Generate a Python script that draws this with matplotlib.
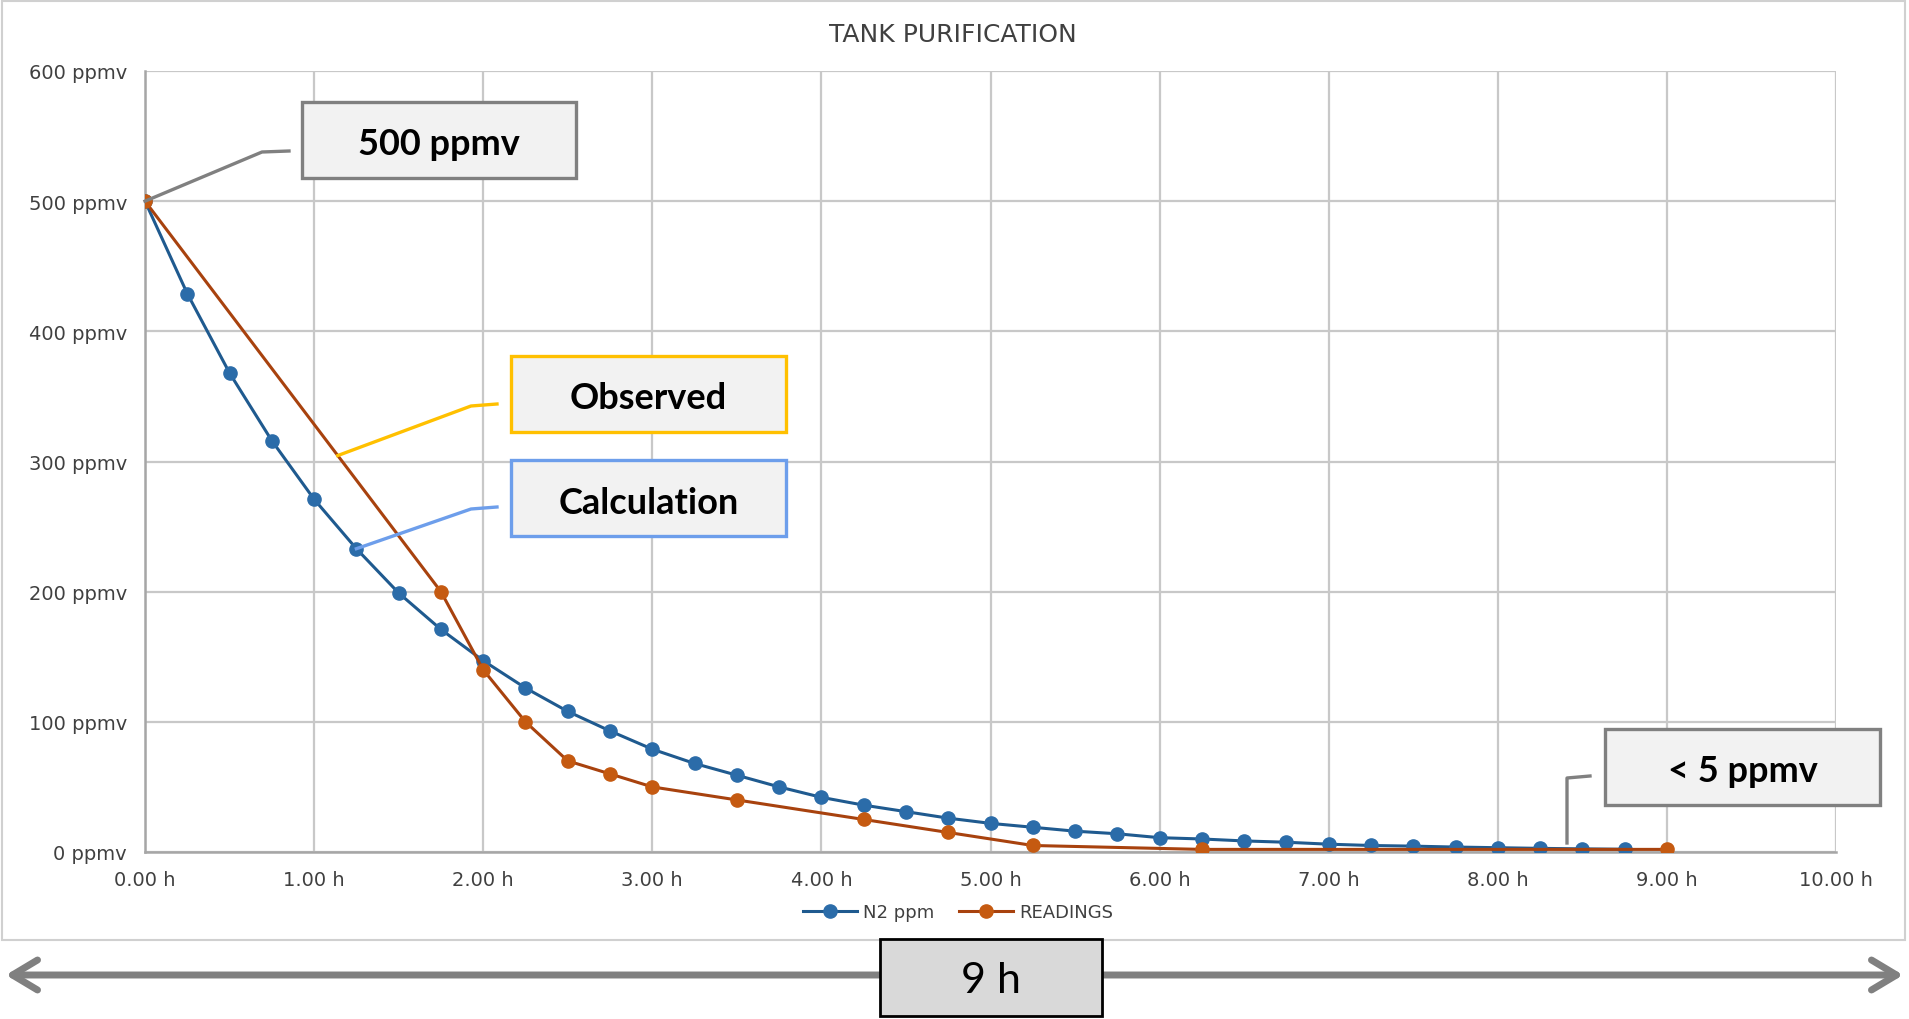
import numpy as np
import matplotlib
matplotlib.use("Agg")
import matplotlib.pyplot as plt
from matplotlib.lines import Line2D
from matplotlib.patches import Rectangle, FancyArrowPatch

# 계산값 (0.25 h 간격)
calc_hours = [0.00, 0.25, 0.50, 0.75, 1.00, 1.25, 1.50, 1.75, 2.00, 2.25,
              2.50, 2.75, 3.00, 3.25, 3.50, 3.75, 4.00, 4.25, 4.50, 4.75,
              5.00, 5.25, 5.50, 5.75, 6.00, 6.25, 6.50, 6.75, 7.00, 7.25,
              7.50, 7.75, 8.00, 8.25, 8.50, 8.75]
n2_ppm = [500, 429, 368, 316, 271, 233, 199, 171, 147, 126,
          108, 93, 79, 68, 59, 50, 42, 36, 31, 26,
          22, 19, 16, 14, 11, 10, 8.5, 7.5, 6, 5,
          4.5, 3.8, 3.3, 2.8, 2.4, 2.1]

# 측정값
read_hours = [0.00, 1.75, 2.00, 2.25, 2.50, 2.75, 3.00, 3.50, 4.25, 4.75, 5.25, 6.25, 9.00]
readings = [500, 200, 140, 100, 70, 60, 50, 40, 25, 15, 5, 2, 2]

x_ticks = [0, 1, 2, 3, 4, 5, 6, 7, 8, 9, 10]
y_ticks = [0, 100, 200, 300, 400, 500, 600]

W, H = 1909, 1020


def fpos(x, y):
    """픽셀 좌표(위에서부터) -> figure fraction"""
    return x / W, 1 - y / H


fig = plt.figure(figsize=(W / 100, H / 100), dpi=100)

# 차트 외곽 테두리
fig.add_artist(Rectangle(fpos(2, 941), 1903 / W, 939 / H, transform=fig.transFigure,
                         fill=False, edgecolor='#D0D0D0', linewidth=1.5))

ax = fig.add_axes([145 / W, 1 - 853 / H, (1836 - 145) / W, (853 - 72) / H])
ax.set_xlim(0, 10)
ax.set_ylim(0, 600)
ax.set_xticks(x_ticks)
ax.set_yticks(y_ticks)
ax.set_xticklabels([f"{v:.2f} h" for v in x_ticks])
ax.set_yticklabels([f"{v} ppmv" for v in y_ticks])
ax.tick_params(length=0, labelsize=14, labelcolor='#404040', pad=13)
ax.grid(True, color='#C8C8C8', linewidth=1.6)
ax.set_axisbelow(True)
for side in ('top', 'right'):
    ax.spines[side].set_visible(False)
for side in ('left', 'bottom'):
    ax.spines[side].set_color('#A6A6A6')
    ax.spines[side].set_linewidth(1.8)

ax.plot(calc_hours, n2_ppm, color='#1F5A8F', linewidth=2.2, marker='o',
        markersize=9.5, markerfacecolor='#2B6CA9', markeredgecolor='#2B6CA9',
        label='N2 ppm', zorder=3)
ax.plot(read_hours, readings, color='#A8420E', linewidth=2.2, marker='o',
        markersize=9.5, markerfacecolor='#C55A11', markeredgecolor='#C55A11',
        label='READINGS', zorder=4)

fig.text(953 / W, 1 - 35 / H, "TANK PURIFICATION", ha='center', va='center',
         fontsize=18, color='#404040')

leg = ax.legend(loc='center', bbox_to_anchor=fpos(958, 913), bbox_transform=fig.transFigure,
                ncol=2, frameon=False, fontsize=13, handlelength=3.0,
                columnspacing=1.4, handletextpad=0.3)
for t in leg.get_texts():
    t.set_color('#404040')

fig.canvas.draw()
to_fig = fig.transFigure.inverted()


def data_fpos(x, y):
    return tuple(to_fig.transform(ax.transData.transform((x, y))))


def callout(x0, y0, x1, y1, text, edge, anchor_pts):
    fig.add_artist(Rectangle(fpos(x0, y1), (x1 - x0) / W, (y1 - y0) / H,
                             transform=fig.transFigure, facecolor='#F2F2F2',
                             edgecolor=edge, linewidth=2.4, zorder=5))
    fig.text((x0 + x1) / 2 / W, 1 - ((y0 + y1) / 2 + 4) / H, text, ha='center', va='center',
             fontsize=26, fontweight='bold', family='Lato', color='black', zorder=6)
    xs = [p[0] for p in anchor_pts]
    ys = [p[1] for p in anchor_pts]
    fig.add_artist(Line2D(xs, ys, transform=fig.transFigure, color=edge,
                          linewidth=2.4, zorder=5))


# 500 ppmv
callout(302, 103, 576, 179, "500 ppmv", '#808080',
        [data_fpos(calc_hours[0], n2_ppm[0]), fpos(262, 153), fpos(289, 152)])
# Observed
obs_x = 1.14
callout(511, 357, 786, 433, "Observed", '#FFC000',
        [data_fpos(obs_x, np.interp(obs_x, read_hours, readings)), fpos(471, 407), fpos(497, 405)])
# Calculation
callout(511, 461, 786, 537, "Calculation", '#6D9EEB',
        [data_fpos(calc_hours[5], n2_ppm[5]), fpos(471, 510), fpos(497, 508)])
# < 5 ppmv
callout(1605, 730, 1880, 806, "< 5 ppmv", '#808080',
        [fpos(1567, 844), fpos(1567, 779), fpos(1590, 777)])

# 하단 화살표 (9 h)
arrow = FancyArrowPatch(fpos(3, 976), fpos(1906, 976), transform=fig.transFigure,
                        arrowstyle='<->,head_length=1.5,head_width=0.9',
                        color='#808080', linewidth=5, capstyle='round',
                        joinstyle='round', mutation_scale=12)
fig.add_artist(arrow)
fig.add_artist(Rectangle(fpos(880, 1017), 222 / W, 77 / H, transform=fig.transFigure,
                         facecolor='#D9D9D9', edgecolor='black', linewidth=2, zorder=5))
fig.text(991 / W, 1 - 981 / H, "9 h", ha='center', va='center', fontsize=31,
         family='Lato', color='black', zorder=6)

fig.savefig("out.png", dpi=100)
